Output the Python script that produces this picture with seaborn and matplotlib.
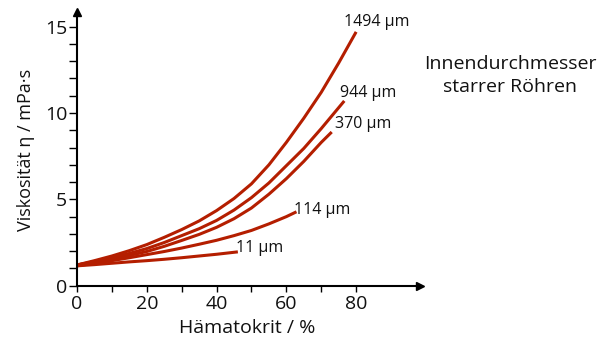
import matplotlib
matplotlib.use("Agg")
import matplotlib.pyplot as plt
import seaborn as sns
import pandas as pd
from matplotlib.ticker import FixedLocator

sns.set_theme(style="white")
plt.rcParams['font.family'] = ['Open Sans', 'DejaVu Sans']

# Data (Hämatokrit %, Viskosität mPa·s)
x_1494 = [0, 5, 10, 15, 20, 25, 30, 35, 40, 45, 50, 55, 60, 65, 70, 75, 80]
y_1494 = [1.2, 1.45, 1.72, 2.03, 2.38, 2.8, 3.25, 3.75, 4.35, 5.05, 5.9, 7.0, 8.3, 9.7, 11.2, 12.9, 14.7]
x_944 = [0, 5, 10, 15, 20, 25, 30, 35, 40, 45, 50, 55, 60, 65, 70, 76.6]
y_944 = [1.2, 1.4, 1.62, 1.87, 2.15, 2.5, 2.9, 3.3, 3.78, 4.38, 5.1, 5.95, 6.95, 7.95, 9.1, 10.7]
x_370 = [0, 5, 10, 15, 20, 25, 30, 35, 40, 45, 50, 55, 60, 65, 70, 73.0]
y_370 = [1.2, 1.36, 1.54, 1.75, 1.98, 2.28, 2.62, 2.97, 3.38, 3.88, 4.5, 5.3, 6.2, 7.2, 8.3, 8.9]
x_114 = [0, 5, 10, 15, 20, 25, 30, 35, 40, 45, 50, 55, 60, 62.9]
y_114 = [1.15, 1.3, 1.45, 1.62, 1.8, 1.98, 2.18, 2.4, 2.63, 2.9, 3.2, 3.58, 4.0, 4.28]
x_11 = [0, 5, 10, 15, 20, 25, 30, 35, 40, 46.1]
y_11 = [1.15, 1.22, 1.3, 1.38, 1.45, 1.53, 1.62, 1.72, 1.82, 1.96]
labels = ["1494 µm", "944 µm", "370 µm", "114 µm", "11 µm"]
label_pos = [(76.6, 15.27), (75.4, 11.16), (74.0, 9.36), (62.3, 4.38), (45.5, 2.18)]

series = [(x_1494, y_1494), (x_944, y_944), (x_370, y_370), (x_114, y_114), (x_11, y_11)]
rows = []
for name, (xs, ys) in zip(labels, series):
    for xv, yv in zip(xs, ys):
        rows.append({"Hämatokrit": xv, "Viskosität": yv, "Röhre": name})
df = pd.DataFrame(rows)

red = "#b41e00"
ink = "#111111"
fig = plt.figure(figsize=(6.06, 3.42), dpi=100)
ax = fig.add_axes([77 / 606, (342 - 285.7) / 342, (420 - 77) / 606, (285.7 - 12) / 342])

sns.lineplot(data=df, x="Hämatokrit", y="Viskosität", hue="Röhre", units="Röhre",
             estimator=None, palette=[red] * 5, linewidth=2.2, legend=False, ax=ax,
             sort=True)
for ln in ax.lines:
    ln.set_solid_capstyle("butt")
    ln.set_solid_joinstyle("round")

ax.set_xlim(0, 98.3)
ax.set_ylim(0, 15.85)

for s in ["top", "right"]:
    ax.spines[s].set_visible(False)
for s in ["left", "bottom"]:
    ax.spines[s].set_color("black")
    ax.spines[s].set_linewidth(1.5)

ax.xaxis.set_major_locator(FixedLocator([0, 20, 40, 60, 80]))
ax.xaxis.set_minor_locator(FixedLocator([10, 30, 50, 70]))
ax.yaxis.set_major_locator(FixedLocator([0, 5, 10, 15]))
ax.yaxis.set_minor_locator(FixedLocator([1, 2, 3, 4, 6, 7, 8, 9, 11, 12, 13, 14]))
ax.tick_params(axis="x", which="both", direction="out", length=4.5, width=1.0,
               color="black", labelsize=14, labelcolor=ink, pad=2, bottom=True)
ax.tick_params(axis="y", which="both", direction="out", length=6, width=1.0,
               color="black", labelsize=14, labelcolor=ink, pad=1, left=True)

ax.plot(1, 0, ">", color="black", markersize=6, transform=ax.transAxes, clip_on=False)
ax.plot(0, 1, "^", color="black", markersize=6, transform=ax.transAxes, clip_on=False)

ax.set_xlabel("Hämatokrit / %", fontsize=14, color=ink)
ax.set_ylabel("Viskosität η / mPa·s", fontsize=13, color=ink)
ax.xaxis.set_label_coords((247 - 77) / (420 - 77), -(328 - 285.7) / (285.7 - 12))
ax.yaxis.set_label_coords(-(77 - 26) / (420 - 77), (285.7 - 150) / (285.7 - 12))
ax.xaxis.label.set_va("center")
ax.yaxis.label.set_va("center")

for lab, (lx, ly) in zip(labels, label_pos):
    ax.text(lx, ly, lab, fontsize=11.5, color=ink, ha="left", va="center")

fig.text(510 / 606, 1 - 75.5 / 342, "Innendurchmesser\nstarrer Röhren", fontsize=14,
         color=ink, ha="center", va="center", linespacing=1.35)

fig.savefig("out.png", dpi=100)
